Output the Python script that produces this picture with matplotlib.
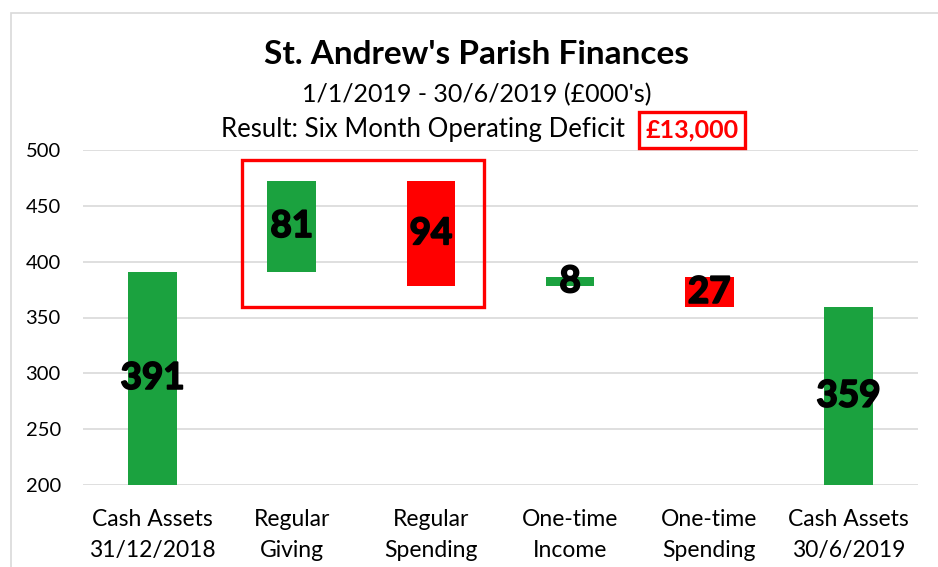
import matplotlib
matplotlib.use("Agg")
import matplotlib.pyplot as plt
import matplotlib.patheffects as pe
from matplotlib.patches import Rectangle

# waterfall data (£000's)
categories = ["Cash Assets\n31/12/2018", "Regular\nGiving", "Regular\nSpending",
              "One-time\nIncome", "One-time\nSpending", "Cash Assets\n30/6/2019"]
changes = [391, 81, -94, 8, -27, 359]
labels = ["391", "81", "94", "8", "27", "359"]
is_total = [True, False, False, False, False, True]
y_ticks = [200, 250, 300, 350, 400, 450, 500]

GREEN = "#1BA23F"
RED = "#FF0000"
plt.rcParams["font.family"] = ["Lato", "DejaVu Sans"]

fig = plt.figure(figsize=(9.38, 5.67), dpi=100)
ax = fig.add_axes([83 / 938, 1 - 485 / 567, 835 / 938, 335 / 567])

# outer chart border (only left/top visible, rest cropped)
fig.patches.append(Rectangle((11 / 938, -0.1), 1.2, 1 - 13 / 567 + 0.1, transform=fig.transFigure,
                             fill=False, edgecolor="#D9D9D9", linewidth=1.2))

running = 0
bottoms, heights, colors = [], [], []
for ch, tot in zip(changes, is_total):
    if tot:
        bottoms.append(200)
        heights.append(ch - 200)
        running = ch
        colors.append(GREEN)
    else:
        start = running
        running += ch
        bottoms.append(min(start, running))
        heights.append(abs(ch))
        colors.append(GREEN if ch > 0 else RED)

x = list(range(len(categories)))
ax.bar(x, heights, bottom=bottoms, width=0.35, color=colors, zorder=3)

heavy = [pe.withStroke(linewidth=1.3, foreground="black")]
for xi, b, h, lab in zip(x, bottoms, heights, labels):
    ax.text(xi, b + h / 2, lab, ha="center", va="center", fontsize=26.5,
            fontweight="bold", color="black", zorder=4, path_effects=heavy)

ax.set_xlim(-0.5, len(categories) - 0.5)
ax.set_ylim(200, 500)
ax.set_yticks(y_ticks)
ax.set_yticklabels([str(t) for t in y_ticks], fontsize=14.5)
ax.set_xticks(x)
ax.set_xticklabels(categories, fontsize=16.5, linespacing=1.6)
ax.tick_params(axis="y", length=0, pad=16)
ax.tick_params(axis="x", length=0, pad=17)
ax.grid(axis="y", color="#D9D9D9", linewidth=1.2, zorder=0)
for s in ax.spines.values():
    s.set_visible(False)

# highlight box around regular giving / spending
ax.add_patch(Rectangle((1 - 0.36, 359), 1.74, 132, fill=False, edgecolor=RED,
                       linewidth=2.4, clip_on=False, zorder=5))

fig.text(476 / 938, 1 - 55 / 567, "St. Andrew's Parish Finances", ha="center", va="center",
         fontsize=24, fontweight="bold")
fig.text(477 / 938, 1 - 95 / 567, "1/1/2019 - 30/6/2019 (£000's)", ha="center", va="center",
         fontsize=18)
fig.text(625 / 938, 1 - 130 / 567, "Result: Six Month Operating Deficit", ha="right", va="center",
         fontsize=18.5)
fig.text(692 / 938, 1 - 130 / 567, "£13,000", ha="center", va="center", fontsize=18,
         fontweight="bold", color=RED,
         bbox=dict(boxstyle="square,pad=0.25", facecolor="white", edgecolor=RED, linewidth=2.4))

fig.savefig("out.png", dpi=100)
